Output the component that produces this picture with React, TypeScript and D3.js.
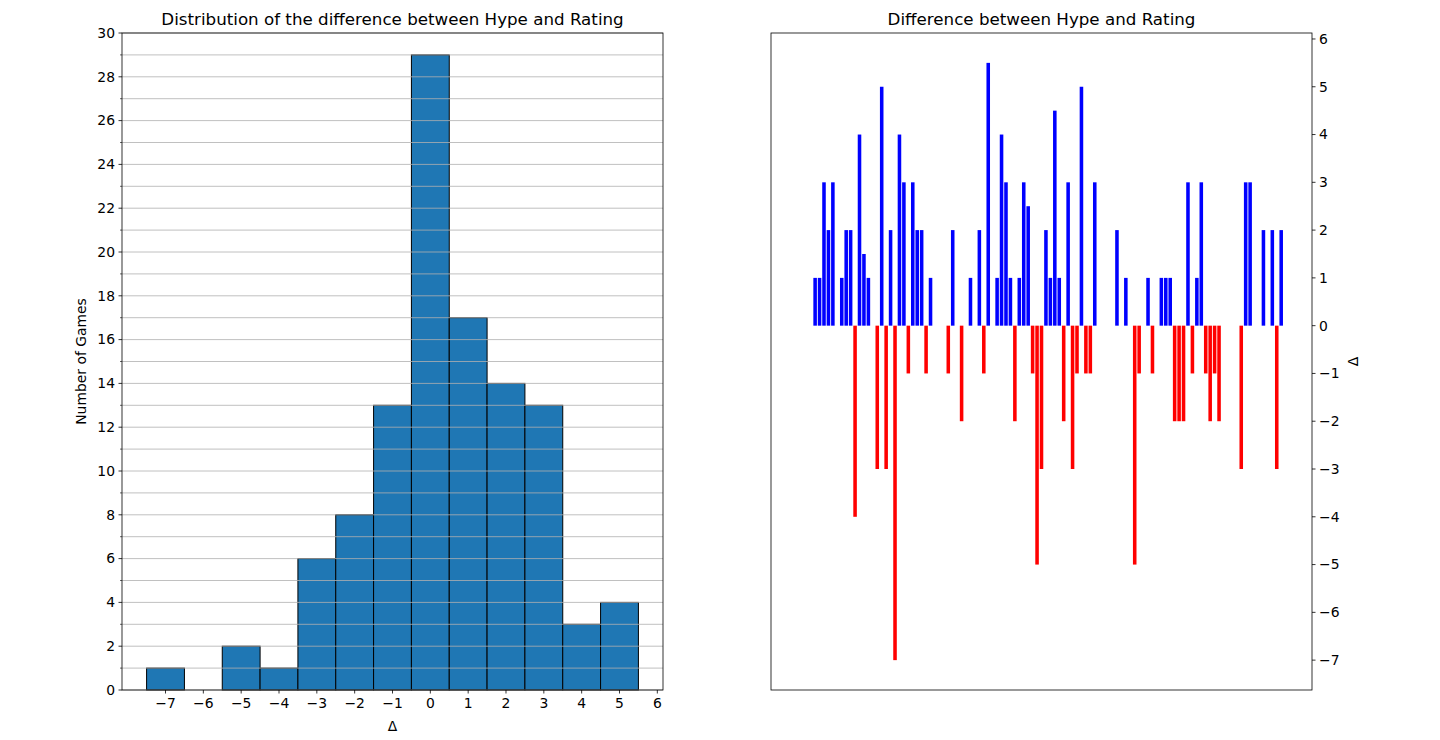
import React from "react";
import * as d3 from "d3";

// Difference (Hype - Rating) for each game, in order
const deltas: number[] = [
  0, 0, 0, 0, 1, 1, 3, 2, 3, 0,
  1, 2, 2, -4, 4, 1.5, 1, 0, -3, 5,
  -3, 2, -7, 4, 3, -1, 3, 2, 2, -1,
  1, 0, 0, 0, -1, 2, 0, -2, 0, 1,
  0, 2, -1, 5.5, 0, 1, 4, 3, 1, -2,
  1, 3, 2.5, -1, -5, -3, 2, 1, 4.5, 1,
  -2, 3, -3, -1, 5, -1, -1, 3, 0, 0,
  0, 0, 2, 0, 1, 0, -5, -1, 0, 1,
  -1, 0, 1, 1, 1, -2, -2, -2, 3, -1,
  1, 3, -1, -2, -1, -2, 0, 0, 0, 0,
  -3, 3, 3, 0, 0, 2, 0, 2, -3, 2,
  0,
];

const binEdges: number[] = [-7.5, -6.5, -5.5, -4.5, -3.5, -2.5, -1.5, -0.5, 0.5, 1.5, 2.5, 3.5, 4.5, 5.5];
const histXTicks: number[] = [-7, -6, -5, -4, -3, -2, -1, 0, 1, 2, 3, 4, 5, 6];
const histYMajor: number[] = d3.range(0, 31, 2);
const histYMinor: number[] = d3.range(1, 30, 2);
const barYTicks: number[] = [-7, -6, -5, -4, -3, -2, -1, 0, 1, 2, 3, 4, 5, 6];

const titleLeft = "Distribution of the difference between Hype and Rating";
const titleRight = "Difference between Hype and Rating";

const FONT = "DejaVu Sans, sans-serif";
const fmt = (v: number) => (v < 0 ? "\u2212" + Math.abs(v) : String(v));

export default function App() {
  // ---- Left histogram ----
  const L = { x0: 122, x1: 663, y0: 33, y1: 690 };
  const hx = d3.scaleLinear().domain([-8.15, 6.15]).range([L.x0, L.x1]);
  const hy = d3.scaleLinear().domain([0, 30]).range([L.y1, L.y0]);
  const binner = d3
    .bin<number, number>()
    .domain([binEdges[0], binEdges[binEdges.length - 1]])
    .thresholds(binEdges.slice(1, -1));
  const bins = binner(deltas);

  // ---- Right bar chart ----
  const R = { x0: 771, x1: 1312, y0: 33, y1: 690 };
  const n = deltas.length;
  const bw = 0.8;
  const span = n - 1 + bw;
  const bx = d3
    .scaleLinear()
    .domain([-bw / 2 - span * 0.05, n - 1 + bw / 2 + span * 0.05])
    .range([R.x0, R.x1]);
  const dMin = d3.min(deltas) as number;
  const dMax = d3.max(deltas) as number;
  const dSpan = dMax - dMin;
  const by = d3
    .scaleLinear()
    .domain([dMin - dSpan * 0.05, dMax + dSpan * 0.05])
    .range([R.y1, R.y0]);

  return (
    <svg
      width={1440}
      height={740}
      style={{ position: "absolute", left: 0, top: 0, background: "#fff" }}
      fontFamily={FONT}
    >
      <rect x={0} y={0} width={1440} height={740} fill="#fff" />

      {/* Left: histogram bars */}
      {bins.map((b, i) => (
        <rect
          key={"h" + i}
          x={hx(b.x0 as number)}
          y={hy(b.length)}
          width={hx(b.x1 as number) - hx(b.x0 as number)}
          height={hy(0) - hy(b.length)}
          fill="#1f77b4"
          stroke="#000"
          strokeWidth={1}
        />
      ))}
      {/* grid lines (drawn above bars) */}
      {[...histYMajor, ...histYMinor].map((v) => (
        <line
          key={"g" + v}
          x1={L.x0}
          x2={L.x1}
          y1={hy(v)}
          y2={hy(v)}
          stroke="#b0b0b0"
          strokeWidth={0.8}
        />
      ))}
      <rect x={L.x0} y={L.y0} width={L.x1 - L.x0} height={L.y1 - L.y0} fill="none" stroke="#000" strokeWidth={0.8} />
      {histYMajor.map((v) => (
        <g key={"ym" + v}>
          <line x1={L.x0 - 3.5} x2={L.x0} y1={hy(v)} y2={hy(v)} stroke="#000" strokeWidth={0.8} />
          <text x={L.x0 - 7} y={hy(v)} dy="0.35em" textAnchor="end" fontSize={13.9}>
            {fmt(v)}
          </text>
        </g>
      ))}
      {histYMinor.map((v) => (
        <line key={"yn" + v} x1={L.x0 - 2} x2={L.x0} y1={hy(v)} y2={hy(v)} stroke="#000" strokeWidth={0.6} />
      ))}
      {histXTicks.map((v) => (
        <g key={"xt" + v}>
          <line x1={hx(v)} x2={hx(v)} y1={L.y1} y2={L.y1 + 3.5} stroke="#000" strokeWidth={0.8} />
          <text x={hx(v)} y={L.y1 + 18} textAnchor="middle" fontSize={13.9}>
            {fmt(v)}
          </text>
        </g>
      ))}
      <text x={(L.x0 + L.x1) / 2} y={25} textAnchor="middle" fontSize={16.7}>
        {titleLeft}
      </text>
      <text x={(L.x0 + L.x1) / 2} y={731} textAnchor="middle" fontSize={13.9}>
        Δ
      </text>
      <text
        transform={`translate(86,${(L.y0 + L.y1) / 2}) rotate(-90)`}
        textAnchor="middle"
        fontSize={13.9}
      >
        Number of Games
      </text>

      {/* Right: bar chart */}
      {deltas.map((v, i) => (
        <rect
          key={"b" + i}
          x={bx(i - bw / 2)}
          y={by(Math.max(v, 0))}
          width={bx(bw) - bx(0)}
          height={Math.abs(by(v) - by(0))}
          fill={v > 0 ? "#0000ff" : "#ff0000"}
        />
      ))}
      <rect x={R.x0} y={R.y0} width={R.x1 - R.x0} height={R.y1 - R.y0} fill="none" stroke="#000" strokeWidth={0.8} />
      {barYTicks.map((v) => (
        <g key={"ry" + v}>
          <line x1={R.x1} x2={R.x1 + 3.5} y1={by(v)} y2={by(v)} stroke="#000" strokeWidth={0.8} />
          <text x={R.x1 + 7} y={by(v)} dy="0.35em" textAnchor="start" fontSize={13.9}>
            {fmt(v)}
          </text>
        </g>
      ))}
      <text x={(R.x0 + R.x1) / 2} y={25} textAnchor="middle" fontSize={16.7}>
        {titleRight}
      </text>
      <text
        transform={`translate(1358,${(R.y0 + R.y1) / 2}) rotate(-90)`}
        textAnchor="middle"
        fontSize={13.9}
      >
        Δ
      </text>
    </svg>
  );
}
